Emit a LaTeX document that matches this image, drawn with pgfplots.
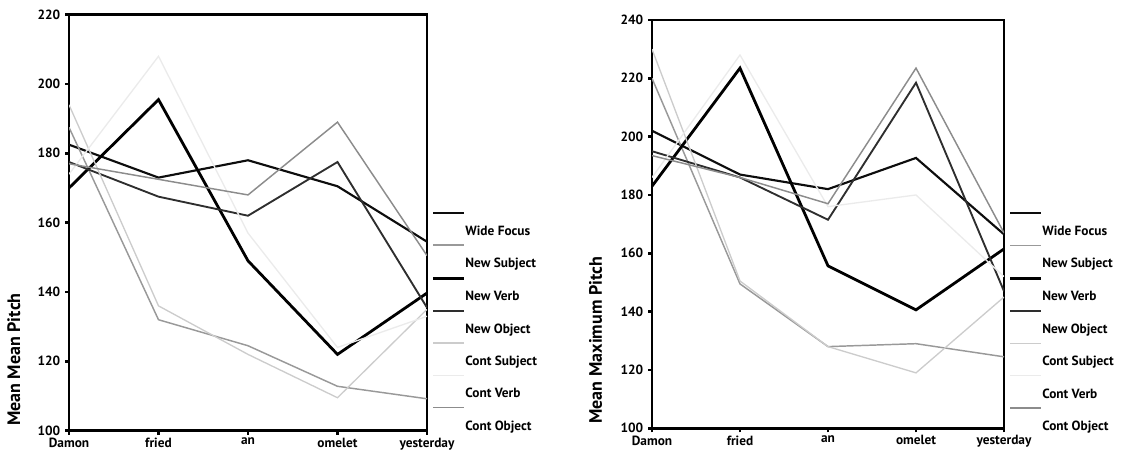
\documentclass[border=0pt]{standalone}
\usepackage{fontspec}
\setmainfont{PT Sans}
\usepackage{pgfplots}
\pgfplotsset{compat=1.18}
\definecolor{cWF}{gray}{0.05}
\definecolor{cNS}{gray}{0.6}
\definecolor{cNV}{gray}{0}
\definecolor{cNO}{gray}{0.18}
\definecolor{cCS}{gray}{0.8}
\definecolor{cCV}{gray}{0.92}
\definecolor{cCO}{gray}{0.55}
\pgfplotsset{
  sWF/.style={cWF, line width=1.6pt},
  sNS/.style={cNS, line width=1.1pt},
  sNV/.style={cNV, line width=2.1pt},
  sNO/.style={cNO, line width=1.4pt},
  sCS/.style={cCS, line width=1.0pt},
  sCV/.style={cCV, line width=1.0pt},
  sCO/.style={cCO, line width=1.1pt},
  panel/.style={
    scale only axis,
    anchor=south west,
    xmin=0, xmax=4,
    xtick={0,1,2,3,4},
    xticklabels={Damon,fried,an,omelet,yesterday},
    axis line style={line width=2pt},
    tick align=outside,
    xtick pos=bottom, ytick pos=left,
    major tick length=3pt,
    tick style={line width=2pt, black},
    /pgf/number format/assume math mode=true,
    tick label style={font=\bfseries\fontsize{10}{12}\selectfont},
    xticklabel style={yshift=1pt},
    ylabel style={font=\bfseries\fontsize{13.5}{16}\selectfont, anchor=south west},
    legend style={draw=none, fill=none, inner sep=0pt,
      font=\bfseries\fontsize{10}{12}\selectfont,
      nodes={inner xsep=0pt},
      row sep=3.4pt, anchor=north west},
    legend cell align=left,
    legend image code/.code={\draw[#1] (0pt,14pt) -- (23pt,14pt);},
    every axis plot/.append style={mark=none, line join=miter},
  }
}
\begin{document}
\begin{tikzpicture}
\path[use as bounding box] (0,0) rectangle (843pt,342pt);
\begin{axis}[panel,
  at={(51.75pt,19pt)}, width=268.5pt, height=312pt,
  ymin=100, ymax=220, ytick={100,120,...,220},
  ylabel={Mean Mean Pitch},
  ylabel style={at={(axis description cs:-0.123,0)}},
  legend style={at={(axis description cs:1.013,0.527)}},
]
\addplot[sWF] coordinates {(0,182.5) (1,173) (2,178) (3,170.5) (4,154.5)};
\addplot[sNS] coordinates {(0,187.5) (1,132) (2,124.5) (3,112.8) (4,109.2)};
\addplot[sNV] coordinates {(0,170) (1,195.5) (2,149) (3,122) (4,139.7)};
\addplot[sNO] coordinates {(0,177.5) (1,167.5) (2,162) (3,177.5) (4,135.5)};
\addplot[sCS] coordinates {(0,194) (1,136) (2,122) (3,109.5) (4,135)};
\addplot[sCV] coordinates {(0,174) (1,208) (2,157) (3,124) (4,133)};
\addplot[sCO] coordinates {(0,177) (1,172.5) (2,168) (3,189) (4,150.5)};
\legend{Wide Focus,New Subject,New Verb,New Object,Cont Subject,Cont Verb,Cont Object}
\node[anchor=west, font=\bfseries\fontsize{13}{15}\selectfont] at (rel axis cs:1,0.562) {Sentence Type};
\end{axis}
\begin{axis}[panel,
  at={(489pt,20.8pt)}, width=264pt, height=306.2pt,
  ymin=100, ymax=240, ytick={100,120,...,240},
  ylabel={Mean Maximum Pitch},
  ylabel style={at={(axis description cs:-0.128,0)}},
  legend style={at={(axis description cs:1.013,0.53)}},
]
\addplot[sWF] coordinates {(0,202) (1,187) (2,182) (3,192.7) (4,166.5)};
\addplot[sNS] coordinates {(0,220) (1,149.5) (2,128) (3,129) (4,124.5)};
\addplot[sNV] coordinates {(0,183) (1,223.5) (2,155.7) (3,140.6) (4,161.5)};
\addplot[sNO] coordinates {(0,195) (1,186) (2,171.5) (3,218.5) (4,147)};
\addplot[sCS] coordinates {(0,230) (1,150.5) (2,128) (3,119) (4,145)};
\addplot[sCV] coordinates {(0,186) (1,228) (2,176) (3,180) (4,152)};
\addplot[sCO] coordinates {(0,193.5) (1,186) (2,177) (3,223.5) (4,167)};
\legend{Wide Focus,New Subject,New Verb,New Object,Cont Subject,Cont Verb,Cont Object}
\node[anchor=west, font=\bfseries\fontsize{13}{15}\selectfont] at (rel axis cs:1,0.564) {Sentence Type};
\end{axis}
\end{tikzpicture}
\end{document}
